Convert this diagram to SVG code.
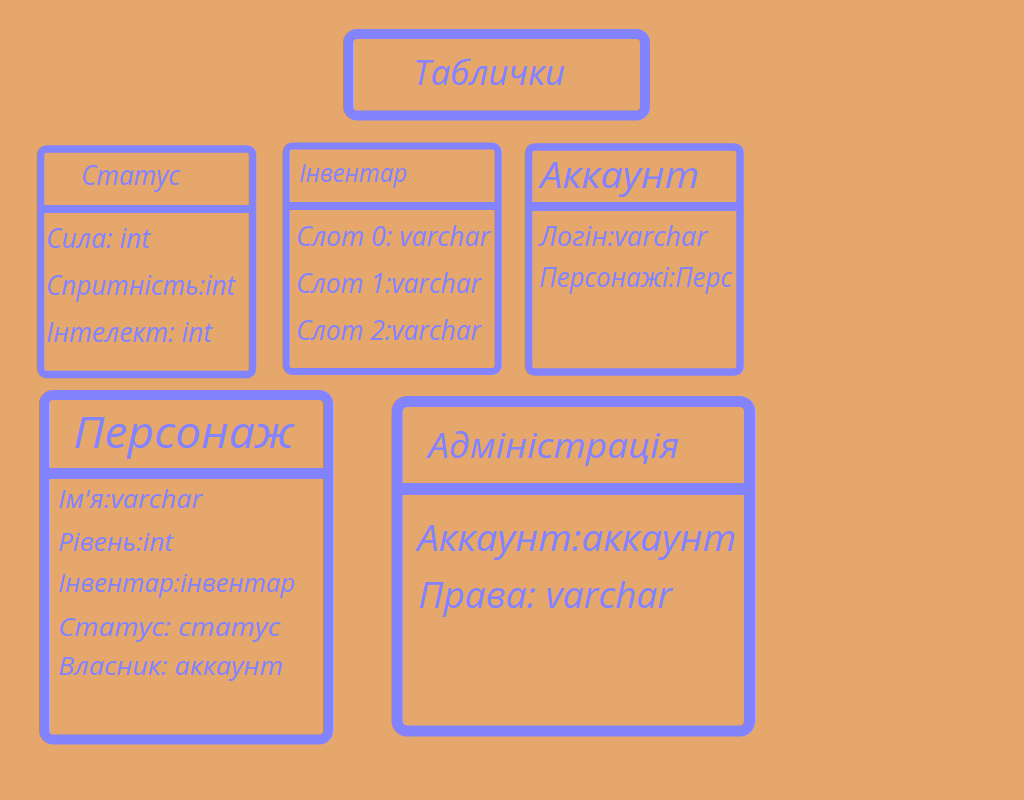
<svg xmlns="http://www.w3.org/2000/svg" width="1024" height="800" viewBox="0 0 1024 800">
<style>
.box{fill:none;stroke:#8383FE;stroke-linejoin:round}
.t{fill:#8383FE;font-family:"Open Sans","Liberation Sans",sans-serif;font-style:italic}
</style>
<rect x="0" y="0" width="1024" height="800" fill="#E5A76B"/>
<g id="title">
<rect class="box" x="348" y="34" width="297" height="81.5" rx="9" stroke-width="10"/>
<text class="t" x="413" y="85" font-size="34" textLength="152" lengthAdjust="spacingAndGlyphs">Таблички</text>
</g>
<g id="status">
<rect class="box" x="40.5" y="149" width="212" height="225.5" rx="6" stroke-width="7.5"/>
<line class="box" x1="40.5" y1="209" x2="252.5" y2="209" stroke-width="8"/>
<text class="t" x="81" y="185" font-size="28" textLength="99" lengthAdjust="spacingAndGlyphs">Статус</text>
<text class="t" x="46" y="248" font-size="27" textLength="104" lengthAdjust="spacingAndGlyphs">Сила: int</text>
<text class="t" x="46" y="295" font-size="27" textLength="189" lengthAdjust="spacingAndGlyphs">Спритність:int</text>
<text class="t" x="46" y="342" font-size="27" textLength="166" lengthAdjust="spacingAndGlyphs">Інтелект: int</text>
</g>
<g id="inventory">
<rect class="box" x="286" y="146" width="212" height="225.5" rx="6" stroke-width="7"/>
<line class="box" x1="286" y1="206" x2="498" y2="206" stroke-width="8"/>
<text class="t" x="299" y="182" font-size="26" textLength="108" lengthAdjust="spacingAndGlyphs">Інвентар</text>
<text class="t" x="296" y="246" font-size="27" textLength="194" lengthAdjust="spacingAndGlyphs">Слот 0: varchar</text>
<text class="t" x="296" y="293" font-size="27" textLength="185" lengthAdjust="spacingAndGlyphs">Слот 1:varchar</text>
<text class="t" x="296" y="340" font-size="27" textLength="185" lengthAdjust="spacingAndGlyphs">Слот 2:varchar</text>
</g>
<g id="account">
<rect class="box" x="528.5" y="147" width="211.5" height="225" rx="6" stroke-width="7.5"/>
<line class="box" x1="528.5" y1="206.5" x2="740" y2="206.5" stroke-width="9"/>
<text class="t" x="540" y="188" font-size="37" textLength="159" lengthAdjust="spacingAndGlyphs">Аккаунт</text>
<text class="t" x="539" y="246" font-size="27" textLength="168" lengthAdjust="spacingAndGlyphs">Логін:varchar</text>
<text class="t" x="539" y="287" font-size="27" textLength="193" lengthAdjust="spacingAndGlyphs">Персонажі:Перс</text>
</g>
<g id="character">
<rect class="box" x="44" y="395" width="284" height="344.5" rx="9" stroke-width="10"/>
<line class="box" x1="44" y1="473.5" x2="328" y2="473.5" stroke-width="11"/>
<text class="t" x="73" y="448" font-size="44" textLength="220" lengthAdjust="spacingAndGlyphs">Персонаж</text>
<text class="t" x="58" y="508" font-size="25" textLength="144" lengthAdjust="spacingAndGlyphs">Ім'я:varchar</text>
<text class="t" x="58" y="551" font-size="25" textLength="115" lengthAdjust="spacingAndGlyphs">Рівень:int</text>
<text class="t" x="58" y="592" font-size="25" textLength="237" lengthAdjust="spacingAndGlyphs">Інвентар:інвентар</text>
<text class="t" x="58" y="636" font-size="25" textLength="222" lengthAdjust="spacingAndGlyphs">Статус: статус</text>
<text class="t" x="58" y="675" font-size="25" textLength="225" lengthAdjust="spacingAndGlyphs">Власник: аккаунт</text>
</g>
<g id="admin">
<rect class="box" x="397" y="401.5" width="352.5" height="329.5" rx="10" stroke-width="11"/>
<line class="box" x1="397" y1="489" x2="749.5" y2="489" stroke-width="12"/>
<text class="t" x="428" y="458" font-size="35" textLength="251" lengthAdjust="spacingAndGlyphs">Адміністрація</text>
<text class="t" x="417" y="551" font-size="37" textLength="319" lengthAdjust="spacingAndGlyphs">Аккаунт:аккаунт</text>
<text class="t" x="418" y="608" font-size="37" textLength="254" lengthAdjust="spacingAndGlyphs">Права: varchar</text>
</g>
<g id="connectors"></g>
</svg>
